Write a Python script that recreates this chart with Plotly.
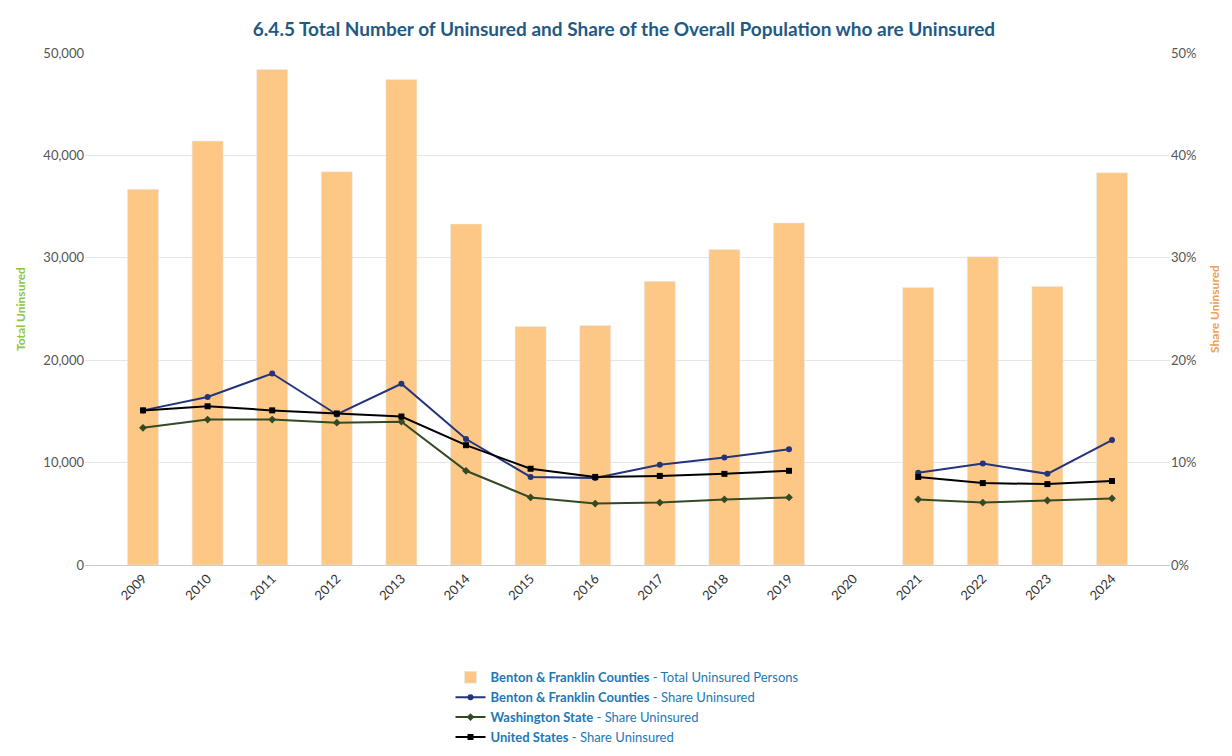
import plotly.graph_objects as go

years = ["2009", "2010", "2011", "2012", "2013", "2014", "2015", "2016",
         "2017", "2018", "2019", "2020", "2021", "2022", "2023", "2024"]
total_uninsured = [36700, 41400, 48400, 38400, 47400, 33300, 23300, 23400,
                   27700, 30800, 33400, None, 27100, 30100, 27200, 38300]
bf_share = [15.1, 16.4, 18.7, 14.7, 17.7, 12.3, 8.6, 8.5,
            9.8, 10.5, 11.3, None, 9.0, 9.9, 8.9, 12.2]
wa_share = [13.4, 14.2, 14.2, 13.9, 14.0, 9.2, 6.6, 6.0,
            6.1, 6.4, 6.6, None, 6.4, 6.1, 6.3, 6.5]
us_share = [15.1, 15.5, 15.1, 14.8, 14.5, 11.7, 9.4, 8.6,
            8.7, 8.9, 9.2, None, 8.6, 8.0, 7.9, 8.2]

fig = go.Figure()
fig.add_trace(go.Bar(
    x=years, y=total_uninsured, marker_color="#fdc886", width=0.48,
    name="<b>Benton & Franklin Counties</b> - Total Uninsured Persons"))

# share lines on the right axis
for vals, color, sym, name in [
    (bf_share, "#25347a", "circle", "<b>Benton & Franklin Counties</b> - Share Uninsured"),
    (wa_share, "#344a25", "diamond", "<b>Washington State</b> - Share Uninsured"),
    (us_share, "#000000", "square", "<b>United States</b> - Share Uninsured"),
]:
    fig.add_trace(go.Scatter(
        x=years, y=vals, yaxis="y2", mode="lines+markers", name=name,
        line=dict(color=color, width=2), marker=dict(symbol=sym, size=6, color=color)))

fig.update_layout(
    width=1232, height=756,
    font=dict(family="Lato", size=13, color="#555"),
    plot_bgcolor="white", paper_bgcolor="white",
    title=dict(text="<b>6.4.5 Total Number of Uninsured and Share of the Overall Population who are Uninsured</b>",
               x=0.5, y=0.98, font=dict(size=19, color="#1f5a85")),
    margin=dict(l=75, r=70, t=45, b=150),
    bargap=0.5,
    xaxis=dict(type="category", tickangle=-45, showgrid=False, showline=True,
               linecolor="#ccc", tickfont=dict(color="#333")),
    yaxis=dict(range=[0, 50000], dtick=10000, tickformat=",", gridcolor="#e6e6e6",
               title=dict(text="<b>Total Uninsured</b>", font=dict(color="#8dc63f", size=12))),
    yaxis2=dict(range=[0, 50], dtick=10, ticksuffix="%", overlaying="y", side="right",
                showgrid=False,
                title=dict(text="<b>Share Uninsured</b>", font=dict(color="#f0a050", size=12))),
    legend=dict(orientation="v", x=0.5, xanchor="center", y=-0.19, yanchor="top",
                font=dict(color="#1f77b4", size=13)),
)
fig.write_html("out.html")
